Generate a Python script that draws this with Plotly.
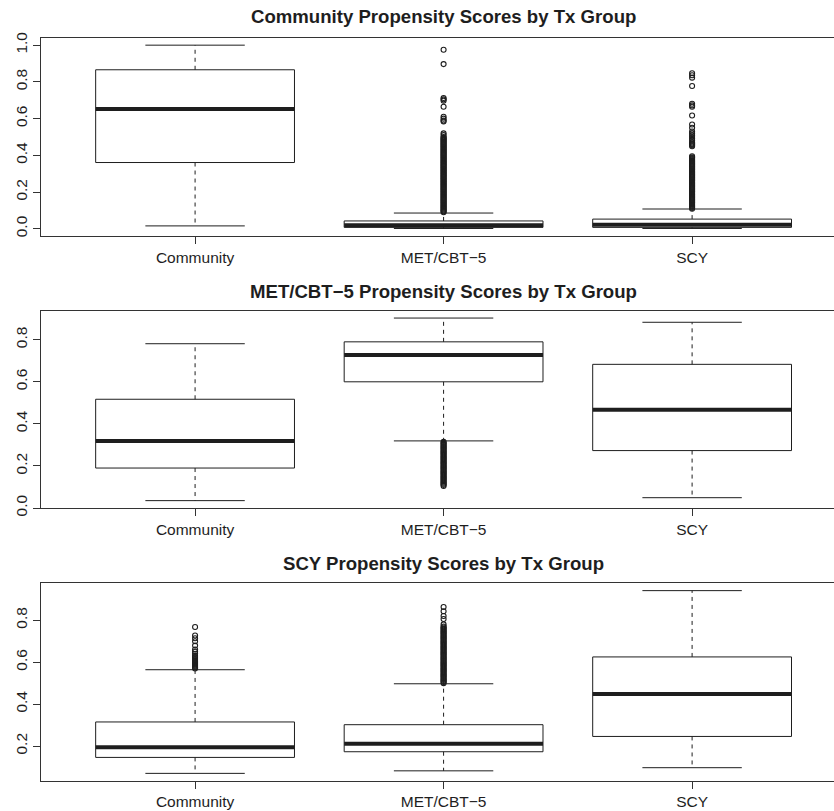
import plotly.graph_objects as go

# ---------------- data ----------------
groups = ["Community", "MET/CBT\u22125", "SCY"]
titles = ["Community Propensity Scores by Tx Group",
          "MET/CBT\u22125 Propensity Scores by Tx Group",
          "SCY Propensity Scores by Tx Group"]

# Panel 1: Community propensity scores
p1_low = [0.016, 0.002, 0.002]
p1_q1 = [0.361, 0.008, 0.008]
p1_med = [0.653, 0.019, 0.022]
p1_q3 = [0.866, 0.043, 0.053]
p1_high = [1.000, 0.086, 0.108]
p1_out_met = [0.975, 0.897, 0.712, 0.705, 0.698, 0.665, 0.610, 0.600, 0.590, 0.585,
              0.520, 0.510, 0.500, 0.495, 0.490, 0.485, 0.480, 0.475, 0.470, 0.465,
              0.460, 0.455, 0.450, 0.445, 0.440, 0.435, 0.430, 0.425, 0.420, 0.415,
              0.410, 0.405, 0.400, 0.395, 0.390, 0.385, 0.380, 0.375, 0.370, 0.365,
              0.360, 0.355, 0.350, 0.345, 0.340, 0.335, 0.330, 0.325, 0.320, 0.315,
              0.310, 0.305, 0.300, 0.295, 0.290, 0.285, 0.280, 0.275, 0.270, 0.265,
              0.260, 0.255, 0.250, 0.245, 0.240, 0.235, 0.230, 0.225, 0.220, 0.215,
              0.210, 0.205, 0.200, 0.195, 0.190, 0.185, 0.180, 0.175, 0.170, 0.165,
              0.160, 0.155, 0.150, 0.145, 0.140, 0.135, 0.130, 0.125, 0.120, 0.115,
              0.110, 0.105, 0.100, 0.095, 0.090]
p1_out_scy = [0.847, 0.836, 0.823, 0.778, 0.681, 0.672, 0.665, 0.617, 0.568, 0.550,
              0.530, 0.520, 0.510, 0.500, 0.490, 0.480, 0.470, 0.465, 0.460, 0.455,
              0.450, 0.395, 0.390, 0.385, 0.380, 0.375, 0.370, 0.365, 0.360, 0.355,
              0.350, 0.345, 0.340, 0.335, 0.330, 0.325, 0.320, 0.315, 0.310, 0.305,
              0.300, 0.295, 0.290, 0.285, 0.280, 0.275, 0.270, 0.265, 0.260, 0.255,
              0.250, 0.245, 0.240, 0.235, 0.230, 0.225, 0.220, 0.215, 0.210, 0.205,
              0.200, 0.195, 0.190, 0.185, 0.180, 0.175, 0.170, 0.165, 0.160, 0.155,
              0.150, 0.145, 0.140, 0.135, 0.130, 0.125, 0.120, 0.115, 0.110]

# Panel 2: MET/CBT-5 propensity scores
p2_low = [0.035, 0.319, 0.049]
p2_q1 = [0.190, 0.600, 0.273]
p2_med = [0.319, 0.727, 0.467]
p2_q3 = [0.517, 0.790, 0.683]
p2_high = [0.781, 0.903, 0.883]
p2_out_met = [0.315, 0.310, 0.305, 0.300, 0.295, 0.290, 0.285, 0.280, 0.275, 0.270,
              0.265, 0.260, 0.255, 0.250, 0.245, 0.240, 0.235, 0.230, 0.225, 0.220,
              0.215, 0.210, 0.205, 0.200, 0.195, 0.190, 0.185, 0.180, 0.175, 0.170,
              0.165, 0.160, 0.155, 0.150, 0.145, 0.140, 0.135, 0.130, 0.125, 0.120,
              0.115, 0.110, 0.105]

# Panel 3: SCY propensity scores
p3_low = [0.070, 0.082, 0.097]
p3_q1 = [0.146, 0.173, 0.246]
p3_med = [0.195, 0.211, 0.448]
p3_q3 = [0.315, 0.302, 0.625]
p3_high = [0.564, 0.497, 0.941]
p3_out_com = [0.768, 0.727, 0.714, 0.700, 0.679, 0.660, 0.650, 0.640, 0.630, 0.625,
              0.620, 0.615, 0.610, 0.605, 0.600, 0.595, 0.590, 0.585, 0.580, 0.575,
              0.570]
p3_out_met = [0.863, 0.843, 0.820, 0.806, 0.780, 0.770, 0.765, 0.760, 0.755, 0.750,
              0.745, 0.740, 0.735, 0.730, 0.725, 0.720, 0.715, 0.710, 0.705, 0.700,
              0.695, 0.690, 0.685, 0.680, 0.675, 0.670, 0.665, 0.660, 0.655, 0.650,
              0.645, 0.640, 0.635, 0.630, 0.625, 0.620, 0.615, 0.610, 0.605, 0.600,
              0.595, 0.590, 0.585, 0.580, 0.575, 0.570, 0.565, 0.560, 0.555, 0.550,
              0.545, 0.540, 0.535, 0.530, 0.525, 0.520, 0.515, 0.510, 0.505, 0.500]

y_ranges = [[-0.039, 1.039], [0.0, 0.938], [0.035, 0.976]]
y_ticks = [[0.0, 0.2, 0.4, 0.6, 0.8, 1.0], [0.0, 0.2, 0.4, 0.6, 0.8], [0.2, 0.4, 0.6, 0.8]]

panels = [
    dict(low=p1_low, q1=p1_q1, med=p1_med, q3=p1_q3, high=p1_high,
         out={2: p1_out_met, 3: p1_out_scy}),
    dict(low=p2_low, q1=p2_q1, med=p2_med, q3=p2_q3, high=p2_high,
         out={2: p2_out_met}),
    dict(low=p3_low, q1=p3_q1, med=p3_med, q3=p3_q3, high=p3_high,
         out={1: p3_out_com, 2: p3_out_met}),
]

# ---------------- styling ----------------
W, H = 834, 811
LEFT = 41
FONT = "Liberation Sans, Arial, Helvetica, sans-serif"
INK = "#1e1e1e"
FRAME = "#333333"
BOX_HW = 0.4
CAP_HW = 0.2
# plot areas in pixel rows (top, bottom)
rows_px = [(38, 236), (310.7, 508), (583.3, 780.7)]
title_px = [16, 291, 563.5]

fig = go.Figure()
annotations = []
layout_axes = {}

for k, pdat in enumerate(panels):
    sfx = "" if k == 0 else str(k + 1)
    xa, ya = "x" + sfx, "y" + sfx

    bx, by, wx, wy, cx, cy, mx, my = [], [], [], [], [], [], [], []
    for i in range(len(groups)):
        c = i + 1
        q1, q3, md = pdat["q1"][i], pdat["q3"][i], pdat["med"][i]
        lo, hi = pdat["low"][i], pdat["high"][i]
        bx += [c - BOX_HW, c + BOX_HW, c + BOX_HW, c - BOX_HW, c - BOX_HW, None]
        by += [q1, q1, q3, q3, q1, None]
        wx += [c, c, None, c, c, None]
        wy += [q3, hi, None, q1, lo, None]
        cx += [c - CAP_HW, c + CAP_HW, None, c - CAP_HW, c + CAP_HW, None]
        cy += [hi, hi, None, lo, lo, None]
        mx += [c - BOX_HW, c + BOX_HW, None]
        my += [md, md, None]

    fig.add_trace(go.Scatter(x=wx, y=wy, mode="lines", xaxis=xa, yaxis=ya,
                             line=dict(color=INK, width=1, dash="4px,4px"),
                             hoverinfo="skip", showlegend=False))
    fig.add_trace(go.Scatter(x=cx, y=cy, mode="lines", xaxis=xa, yaxis=ya,
                             line=dict(color=INK, width=1),
                             hoverinfo="skip", showlegend=False))
    fig.add_trace(go.Scatter(x=bx, y=by, mode="lines", xaxis=xa, yaxis=ya,
                             line=dict(color=INK, width=1),
                             hoverinfo="skip", showlegend=False))
    fig.add_trace(go.Scatter(x=mx, y=my, mode="lines", xaxis=xa, yaxis=ya,
                             line=dict(color=INK, width=4),
                             hoverinfo="skip", showlegend=False))
    for gi, vals in pdat["out"].items():
        fig.add_trace(go.Scatter(x=[gi] * len(vals), y=vals, mode="markers",
                                 xaxis=xa, yaxis=ya,
                                 marker=dict(symbol="circle-open", size=5,
                                             color=INK, line=dict(width=1.1, color=INK)),
                                 hoverinfo="skip", showlegend=False))

    top, bot = rows_px[k]
    layout_axes["xaxis" + sfx] = dict(
        domain=[0, 1], anchor=ya, range=[0.38, 3.571],
        tickmode="array", tickvals=[1, 2, 3], ticktext=groups,
        ticks="outside", ticklen=7, tickcolor=FRAME, tickwidth=1,
        showline=True, linecolor=FRAME, linewidth=1, mirror=True,
        showgrid=False, zeroline=False, automargin=False,
        tickfont=dict(family=FONT, size=15.5, color=INK))
    layout_axes["yaxis" + sfx] = dict(
        domain=[1 - bot / H, 1 - top / H], anchor=xa, range=y_ranges[k],
        tickmode="array", tickvals=y_ticks[k],
        ticktext=["%.1f" % v for v in y_ticks[k]],
        tickangle=-90, ticks="outside", ticklen=7, tickcolor=FRAME, tickwidth=1,
        showline=True, linecolor=FRAME, linewidth=1, mirror=False,
        showgrid=False, zeroline=False, automargin=False,
        tickfont=dict(family=FONT, size=15.5, color=INK))
    annotations.append(dict(
        text="<b>%s</b>" % titles[k], xref=xa, yref="paper", x=2,
        y=1 - title_px[k] / H, xanchor="center", yanchor="middle",
        showarrow=False, font=dict(family=FONT, size=18.6, color=INK)))

fig.update_layout(
    width=W, height=H,
    margin=dict(l=LEFT, r=0, t=0, b=0, pad=0),
    paper_bgcolor="white", plot_bgcolor="white",
    showlegend=False, annotations=annotations, **layout_axes)

fig.write_html("out.html",
               config={"displayModeBar": False, "staticPlot": True},
               post_script="document.body.style.margin='0px';"
                           "document.body.style.overflow='hidden';")
